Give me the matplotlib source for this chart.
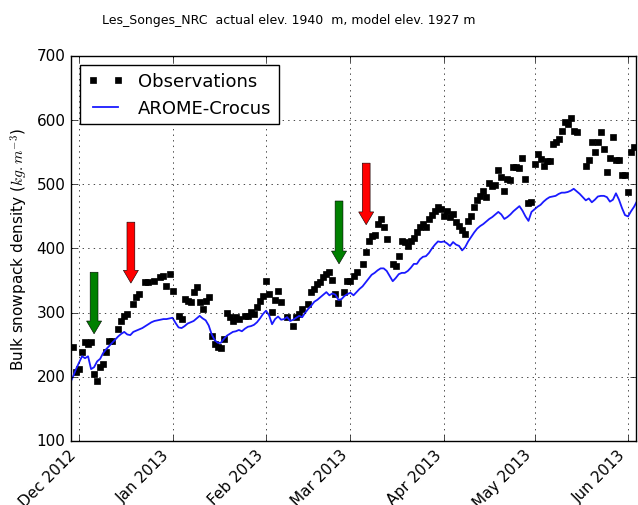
import datetime as dt
import matplotlib
matplotlib.use('Agg')
import matplotlib.pyplot as plt
import matplotlib.dates as mdates

# days counted from 1 Dec 2012
start = dt.datetime(2012, 12, 1)

obs_day = [-2, -1, 0, 1, 2, 3, 4, 5, 6, 7, 8, 9, 10, 11, 13, 14, 15, 16, 18, 19,
           20, 22, 23, 25, 27, 28, 29, 30, 31, 33, 34, 35, 36, 37, 38, 39, 40, 41, 42, 43,
           44, 45, 46, 47, 48, 49, 50, 51, 52, 53, 55, 56, 57, 58, 59, 60, 61, 62, 63, 64,
           65, 66, 67, 69, 71, 72, 73, 74, 76, 77, 78, 79, 80, 81, 82, 83, 84, 85, 86, 88,
           89, 90, 91, 92, 94, 95, 96, 97, 98, 99, 100, 101, 102, 104, 105, 106, 107, 108, 109, 110,
           111, 112, 113, 114, 115, 116, 117, 118, 119, 120, 121, 122, 123, 124, 125, 126, 127, 128, 129, 130,
           131, 132, 133, 134, 135, 136, 137, 138, 139, 140, 141, 142, 143, 144, 145, 146, 147, 148, 149, 150,
           151, 152, 153, 154, 155, 156, 157, 158, 159, 160, 161, 162, 163, 164, 165, 168, 169, 170, 171, 172,
           173, 174, 175, 176, 177, 178, 179, 180, 181, 182, 183, 184]
obs_val = [246, 207, 212, 239, 254, 251, 254, 204, 194, 215, 220, 239, 256, 256, 275, 287, 295, 298, 314, 324,
           329, 348, 348, 349, 356, 357, 342, 360, 334, 295, 290, 321, 318, 317, 332, 340, 317, 305, 318, 324,
           264, 251, 246, 245, 259, 300, 293, 287, 293, 290, 295, 295, 301, 298, 309, 318, 326, 349, 329, 301,
           320, 334, 317, 293, 279, 293, 298, 306, 313, 332, 337, 345, 348, 356, 360, 363, 351, 329, 315, 332,
           349, 349, 357, 363, 376, 395, 412, 420, 421, 438, 446, 434, 415, 376, 373, 388, 412, 410, 404, 412,
           416, 426, 434, 438, 433, 446, 452, 459, 465, 462, 451, 459, 449, 454, 441, 435, 429, 423, 443, 451,
           465, 476, 482, 489, 480, 502, 498, 499, 522, 511, 489, 508, 507, 527, 527, 525, 541, 508, 471, 472,
           532, 547, 540, 529, 537, 537, 563, 566, 570, 583, 597, 594, 603, 583, 581, 529, 538, 566, 550, 566,
           581, 555, 519, 541, 574, 538, 538, 515, 515, 488, 550, 558]

model_first_day = -3
model_val = [190, 200, 212, 222, 232, 229, 232, 212, 215, 224,
             228, 237, 243, 248, 253, 258, 263, 267, 270, 266,
             265, 270, 272, 274, 276, 279, 282, 285, 287, 288,
             289, 290, 290, 291, 292, 284, 277, 276, 279, 283,
             285, 287, 291, 295, 291, 288, 280, 266, 257, 253,
             253, 259, 264, 267, 270, 271, 273, 271, 275, 278,
             279, 281, 285, 291, 298, 303, 296, 282, 290, 294,
             289, 290, 293, 287, 289, 292, 295, 293, 300, 306,
             311, 317, 320, 324, 328, 332, 327, 330, 328, 320,
             321, 326, 329, 331, 327, 332, 337, 341, 347, 353,
             359, 362, 366, 369, 369, 365, 357, 349, 354, 360,
             362, 362, 365, 370, 376, 376, 383, 387, 388, 393,
             400, 406, 411, 410, 411, 408, 404, 410, 406, 404,
             397, 402, 411, 418, 425, 431, 435, 438, 442, 446,
             449, 453, 457, 453, 446, 449, 453, 458, 462, 466,
             459, 450, 443, 457, 461, 465, 468, 473, 477, 480,
             481, 482, 485, 487, 487, 488, 490, 493, 489, 485,
             480, 475, 478, 472, 476, 481, 482, 482, 480, 473,
             476, 486, 476, 463, 452, 450, 458, 465, 474]

# arrows: day, top value, tip value, colour
arrows = [(5, 363, 267, 'green'), (17.2, 441, 346, 'red'),
          (86.2, 474, 376, 'green'), (95.2, 533, 437, 'red')]

plt.style.use('classic')

obs_dates = [start + dt.timedelta(days=d) for d in obs_day]
model_dates = [start + dt.timedelta(days=model_first_day + i) for i in range(len(model_val))]

fig = plt.figure(figsize=(6.38, 5.06), dpi=100, facecolor='white')
ax = fig.add_axes([0.1113, 0.1265, 0.8856, 0.7609])

ax.plot(obs_dates, obs_val, 's', color='black', markersize=5, label='Observations')
ax.plot(model_dates, model_val, '-', color='#1a1aff', lw=1.3, label='AROME-Crocus')

for d, top, tip, c in arrows:
    x = mdates.date2num(start + dt.timedelta(days=d))
    ax.arrow(x, top, 0, tip - top, width=2.6, head_width=5.0, head_length=20,
             length_includes_head=True, fc=c, ec='black', lw=0.4, zorder=5)

ax.set_ylim(100, 700)
ax.set_xlim(mdates.date2num(start - dt.timedelta(days=2.65)),
            mdates.date2num(start + dt.timedelta(days=184.65)))
ax.xaxis.set_major_locator(mdates.MonthLocator())
ax.xaxis.set_major_formatter(mdates.DateFormatter('%b %Y'))
plt.setp(ax.get_xticklabels(), rotation=45, ha='right')
ax.tick_params(labelsize=11)
ax.grid(True)
ax.set_ylabel('Bulk snowpack density ($kg.m^{-3}$)', fontsize=11)
ax.legend(loc='upper left', numpoints=2, fontsize=13)

fig.text(0.453, 0.960, 'Les_Songes_NRC  actual elev. 1940  m, model elev. 1927 m',
         ha='center', va='center', fontsize=9)

fig.savefig('out.png', dpi=100, facecolor='white')
